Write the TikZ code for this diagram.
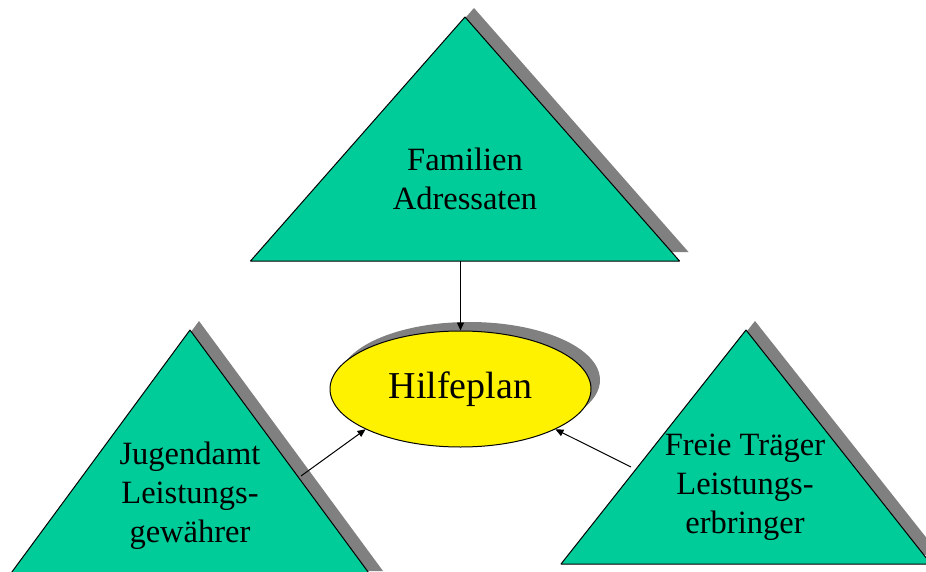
\documentclass[tikz,border=0pt]{standalone}
\usepackage{fontspec}
\setmainfont{Liberation Serif}
\usetikzlibrary{shapes.geometric,shadows,arrows.meta}
\definecolor{tealgreen}{RGB}{0,204,153}
\definecolor{shadowgray}{RGB}{128,128,128}
\begin{document}
\begin{tikzpicture}[x=1pt, y=-1pt, line join=round, >={Triangle[length=8pt,width=7pt]},
	tri/.style={fill=tealgreen, draw=black, line width=1pt},
	triShadow/.style={fill=shadowgray},
	triText/.style={align=center, font=\fontsize{32.5}{39}\selectfont},
	planNode/.style={ellipse, draw, line width=1pt, fill=yellow, inner sep=0pt,
		minimum width=261pt, minimum height=116pt, font=\fontsize{38}{44}\selectfont,
		drop shadow={shadow xshift=9pt, shadow yshift=9pt, fill=shadowgray, opacity=1}}]
	\useasboundingbox (0,0) rectangle (926,572);
	\clip (0,0) rectangle (926,572);
	% apex x/apex y/half base/base y
	\foreach \ax/\ay/\hb/\by in {465/17/214.5/261, 190/330/184/580, 746/330/185/564}{
		\fill[triShadow] (\ax+9,\ay-9) -- (\ax+\hb+9,\by-9) -- (\ax-\hb+9,\by-9) -- cycle;
		\filldraw[tri] (\ax,\ay) -- (\ax+\hb,\by) -- (\ax-\hb,\by) -- cycle;
	}
	\node[planNode] (plan) at (460.5,389) {\raisebox{-3pt}{Hilfeplan}};
	\node[triText] (familien) at (465,179) {Familien\\Adressaten};
	\node[triText] (jugendamt) at (190,495.5) {Jugendamt\\Leistungs-\\gewährer};
	\node[triText] (traeger) at (745,487.5) {Freie Träger\\Leistungs-\\erbringer};
	\coordinate (famFoot) at (460.5,261);
	\coordinate (jugFoot) at (301,476);
	\coordinate (traFoot) at (631,467);
	\draw[->, line width=1pt] (famFoot) -- (plan.north);
	\draw[->, line width=1pt] (jugFoot) -- (plan.203);
	\draw[->, line width=1pt] (traFoot) -- (plan.337);
\end{tikzpicture}
\end{document}
